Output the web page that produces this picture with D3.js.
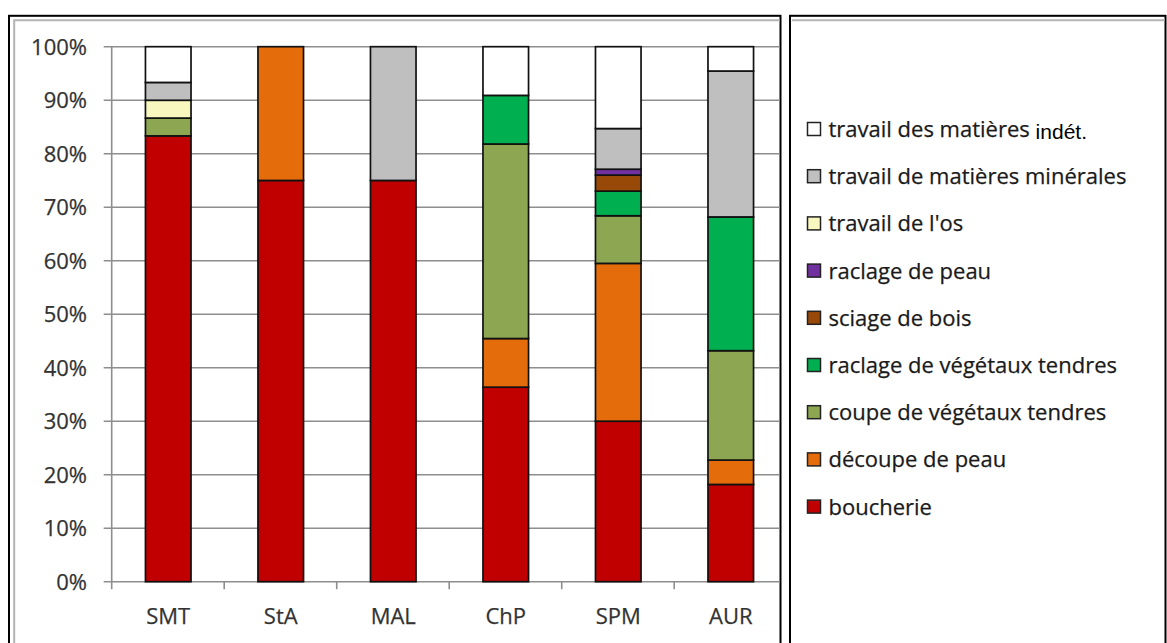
<!DOCTYPE html>
<html>
<head>
<meta charset="utf-8">
<script src="https://cdn.jsdelivr.net/npm/d3@7"></script>
<style>
  html, body { margin: 0; padding: 0; background: #fff; }
  svg { display: block; }
</style>
</head>
<body>
<svg id="chart" width="1167" height="643"></svg>
<script>
// Sites (x categories)
const categories = ["SMT", "StA", "MAL", "ChP", "SPM", "AUR"];

// Activity series, in stacking order (bottom to top), percentages per site
const seriesNames = [
  "boucherie",
  "découpe de peau",
  "coupe de végétaux tendres",
  "raclage de végétaux tendres",
  "sciage de bois",
  "raclage de peau",
  "travail de l'os",
  "travail de matières minérales",
  "travail des matières indét."
];
const boucherie       = [83.33, 75, 75, 36.36, 30.0, 18.18];
const decoupePeau     = [0,     25, 0,  9.09,  29.5, 4.55];
const coupeVegetaux   = [3.33,  0,  0,  36.36, 8.9,  20.45];
const raclageVegetaux = [0,     0,  0,  9.09,  4.6,  25.0];
const sciageBois      = [0,     0,  0,  0,     3.0,  0];
const raclagePeau     = [0,     0,  0,  0,     1.1,  0];
const travailOs       = [3.33,  0,  0,  0,     0,    0];
const matMinerales    = [3.33,  0,  25, 0,     7.6,  27.27];
const matIndet        = [6.68,  0,  0,  9.10,  15.3, 4.55];
const seriesValues = [boucherie, decoupePeau, coupeVegetaux, raclageVegetaux,
  sciageBois, raclagePeau, travailOs, matMinerales, matIndet];

const colors = ["#c00000", "#e46c0a", "#8ca651", "#00b050", "#984807",
  "#7030a0", "#f9f7c0", "#bfbfbf", "#ffffff"];

const yTicks = [0, 0.1, 0.2, 0.3, 0.4, 0.5, 0.6, 0.7, 0.8, 0.9, 1.0];

const svg = d3.select("#chart");
const labelFont = "'Open Sans', 'Noto Sans', sans-serif";
const labelSize = 22;

// Frames of the two panels
svg.append("rect").attr("x", 9).attr("y", 15.8).attr("width", 771.5).attr("height", 700)
  .attr("fill", "none").attr("stroke", "#000").attr("stroke-width", 2);
svg.append("rect").attr("x", 790).attr("y", 15.8).attr("width", 375.5).attr("height", 700)
  .attr("fill", "none").attr("stroke", "#000").attr("stroke-width", 2);
// inner chart-area frame (light grey)
svg.append("path").attr("d", "M14.2,700 V20.2 H779.5")
  .attr("fill", "none").attr("stroke", "#b4b4b4").attr("stroke-width", 2);
svg.append("path").attr("d", "M792,20.2 H1164.5")
  .attr("fill", "none").attr("stroke", "#b4b4b4").attr("stroke-width", 2);

// Plot clip (the chart is cut by the panel frame on the right)
svg.append("clipPath").attr("id", "plotClip")
  .append("rect").attr("x", 0).attr("y", 0).attr("width", 779.5).attr("height", 643);

const plotLeft = 111.7, plotRight = 787.3;
const y = d3.scaleLinear().domain([0, 1]).range([581.7, 46.7]);
const x = d3.scaleBand().domain(categories).range([plotLeft, plotRight])
  .paddingInner(0.595).paddingOuter(0.3);

const plot = svg.append("g").attr("clip-path", "url(#plotClip)");

// Horizontal gridlines with left tick marks
plot.append("g").selectAll("line").data(yTicks).join("line")
  .attr("x1", plotLeft - 8).attr("x2", plotRight)
  .attr("y1", d => y(d)).attr("y2", d => y(d))
  .attr("stroke", "#8e8e8e").attr("stroke-width", 1.6);

// Vertical axis line
plot.append("line").attr("x1", plotLeft).attr("x2", plotLeft)
  .attr("y1", y(1)).attr("y2", y(0))
  .attr("stroke", "#8e8e8e").attr("stroke-width", 1.6);

// Category tick marks below the baseline
plot.append("g").selectAll("line").data(d3.range(categories.length + 1)).join("line")
  .attr("x1", i => plotLeft + i * x.step()).attr("x2", i => plotLeft + i * x.step())
  .attr("y1", y(0)).attr("y2", y(0) + 7.5)
  .attr("stroke", "#8e8e8e").attr("stroke-width", 1.6);

// Stacked bars
const rows = categories.map((c, i) => {
  const r = { site: c };
  seriesNames.forEach((s, k) => { r[s] = seriesValues[k][i] / 100; });
  return r;
});
const stacked = d3.stack().keys(seriesNames)(rows);

const barG = plot.append("g");
stacked.forEach((layer, k) => {
  barG.append("g").selectAll("rect")
    .data(layer.filter(d => d[1] - d[0] > 0))
    .join("rect")
    .attr("x", d => x(d.data.site))
    .attr("width", x.bandwidth())
    .attr("y", d => y(d[1]))
    .attr("height", d => y(d[0]) - y(d[1]))
    .attr("fill", colors[k])
    .attr("stroke", "#111")
    .attr("stroke-width", 1.7);
});

// Y axis labels
svg.append("g").selectAll("text").data(yTicks).join("text")
  .attr("x", 87).attr("y", d => y(d))
  .attr("dy", "0.36em")
  .attr("text-anchor", "end")
  .attr("font-family", labelFont).attr("font-size", labelSize)
  .attr("fill", "#333").attr("stroke", "#333").attr("stroke-width", 0.25)
  .text(d => d3.format(".0%")(d));

// X axis labels
svg.append("g").selectAll("text").data(categories).join("text")
  .attr("x", d => x(d) + x.bandwidth() / 2).attr("y", 616.5)
  .attr("dy", "0.36em")
  .attr("text-anchor", "middle")
  .attr("font-family", labelFont).attr("font-size", labelSize)
  .attr("fill", "#333").attr("stroke", "#333").attr("stroke-width", 0.25)
  .text(d => d);

// Legend (top item = last stacked series)
const legendOrder = d3.range(seriesNames.length).reverse();
const ly = d3.scaleLinear().domain([0, 8]).range([129, 506.6]);
const legend = svg.append("g");
legendOrder.forEach((k, i) => {
  const g = legend.append("g").attr("transform", `translate(0,${ly(i)})`);
  g.append("rect").attr("x", 807.5).attr("y", -6.5).attr("width", 13).attr("height", 13)
    .attr("fill", colors[k]).attr("stroke", "#222").attr("stroke-width", 1.5);
  const name = seriesNames[k];
  const t = g.append("text").attr("x", 828.5).attr("y", 0).attr("dy", "0.36em")
    .attr("font-family", labelFont).attr("font-size", labelSize)
    .attr("fill", "#1a1a1a").attr("stroke", "#1a1a1a").attr("stroke-width", 0.25);
  if (name.endsWith(" indét.")) {
    t.append("tspan").text(name.replace(" indét.", ""));
    t.append("tspan").attr("font-family", "'Liberation Sans', Arial, sans-serif")
      .attr("font-size", 21).attr("fill", "#000").attr("stroke", "none")
      .attr("dy", "0.08em").text(" indét.");
  } else {
    t.text(name);
  }
});
</script>
</body>
</html>
